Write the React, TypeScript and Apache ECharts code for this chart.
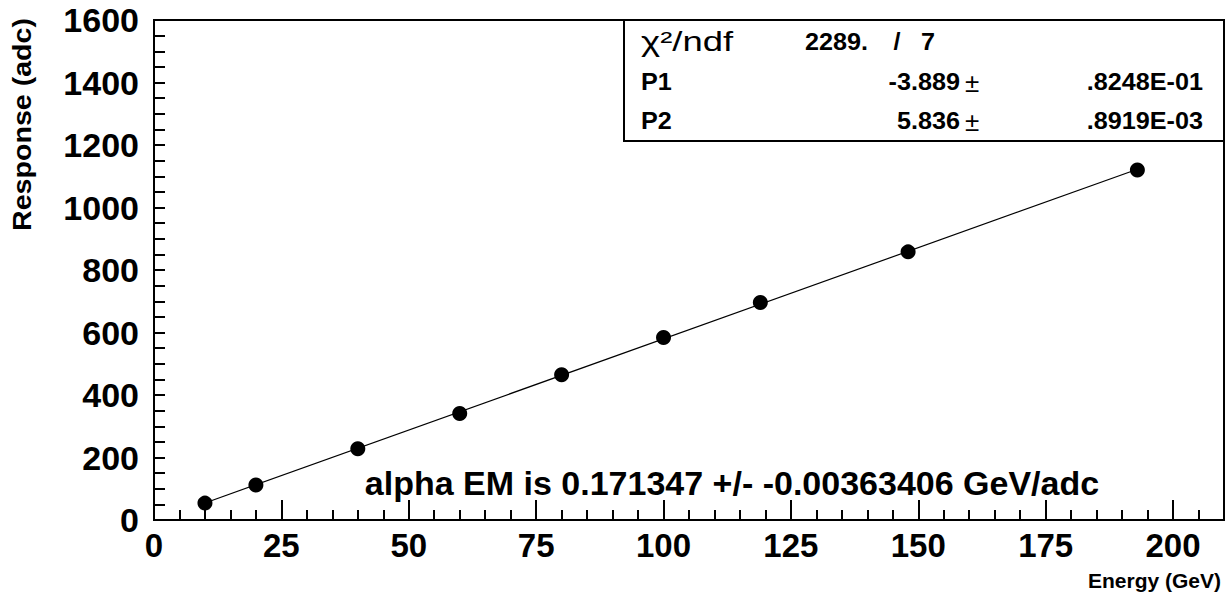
import React, { useEffect, useRef } from "react";
import * as echarts from "echarts";

const energy = [10, 20, 40, 60, 80, 100, 119, 148, 193];
const response = [54, 112, 228, 341, 465, 584, 696, 858, 1120];
const P1 = -3.889;
const P2 = 5.836;
const xMajorTicks = [0, 25, 50, 75, 100, 125, 150, 175, 200];
const yMajorTicks = [0, 200, 400, 600, 800, 1000, 1200, 1400, 1600];

const FONT = "'Liberation Sans', Arial, Helvetica, sans-serif";

export default function App() {
  const ref = useRef<HTMLDivElement>(null);
  useEffect(() => {
    const chart = echarts.init(ref.current!, null, { renderer: "svg" });
    const xMin = Math.min(...energy);
    const xMax = Math.max(...energy);
    const fitLine = [
      [xMin, P1 + P2 * xMin],
      [xMax, P1 + P2 * xMax],
    ];
    const left = 154, right = 5, top = 20, bottom = 78;
    const boxX = 624, boxY = 20, boxW = 1224 - 624, boxH = 121;
    const boxText = (text: string, x: number, y: number, align: string, bold = true, size = 24, sx = 1.05) => ({
      type: "text",
      x,
      y,
      scaleX: sx,
      style: {
        text,
        fontFamily: FONT,
        fontWeight: bold ? "bold" : "normal",
        fontSize: size,
        fill: "#000",
        align,
        verticalAlign: "middle",
      },
    });
    chart.setOption({
      animation: false,
      backgroundColor: "#ffffff",
      grid: {
        left, right, top, bottom,
        show: true,
        borderColor: "#000",
        borderWidth: 2,
        backgroundColor: "transparent",
      },
      xAxis: [
        {
          type: "value",
          min: 0,
          max: 210,
          interval: 25,
          axisLine: { show: true, onZero: false, lineStyle: { color: "#000", width: 2 } },
          axisTick: { show: true, inside: true, length: 20, lineStyle: { color: "#000", width: 2 } },
          minorTick: { show: false },
          splitLine: { show: false },
          axisLabel: {
            showMaxLabel: false,
            color: "#000",
            fontFamily: FONT,
            fontWeight: "bold",
            fontSize: 33,
            margin: 9,
            formatter: (v: number) => (xMajorTicks.includes(v) ? String(v) : ""),
          },
        },
        {
          type: "value",
          min: 0,
          max: 210,
          interval: 5,
          position: "bottom",
          axisLine: { show: false },
          axisTick: { show: true, inside: true, length: 10, lineStyle: { color: "#000", width: 2 } },
          splitLine: { show: false },
          axisLabel: { show: false },
        },
      ],
      yAxis: [
        {
          type: "value",
          min: 0,
          max: 1600,
          interval: 200,
          axisLine: { show: true, onZero: false, lineStyle: { color: "#000", width: 2 } },
          axisTick: { show: true, inside: true, length: 11, lineStyle: { color: "#000", width: 2 } },
          minorTick: { show: true, splitNumber: 4, length: 11, lineStyle: { color: "#000", width: 2 } },
          splitLine: { show: false },
          axisLabel: {
            color: "#000",
            fontFamily: FONT,
            fontWeight: "bold",
            fontSize: 34,
            margin: 15,
            formatter: (v: number) => (yMajorTicks.includes(v) ? String(v) : ""),
          },
        },
      ],
      series: [
        {
          type: "line",
          data: fitLine,
          symbol: "none",
          lineStyle: { color: "#000", width: 1.2 },
          z: 2,
        },
        {
          type: "scatter",
          data: energy.map((e, i) => [e, response[i]]),
          symbol: "circle",
          symbolSize: 15,
          itemStyle: { color: "#000", opacity: 1 },
          z: 3,
        },
      ],
      graphic: [
        {
          type: "text",
          x: 22,
          y: 18,
          rotation: Math.PI / 2,
          scaleX: 1.1,
          style: {
            text: "Response (adc)",
            fontFamily: FONT,
            fontWeight: "bold",
            fontSize: 26,
            fill: "#000",
            align: "right",
            verticalAlign: "middle",
          },
        },
        {
          type: "text",
          x: 1221,
          y: 580,
          style: {
            text: "Energy (GeV)",
            fontFamily: FONT,
            fontWeight: "bold",
            fontSize: 21,
            fill: "#000",
            align: "right",
            verticalAlign: "middle",
          },
        },
        {
          type: "text",
          x: 732,
          y: 483,
          style: {
            text: "alpha EM is 0.171347 +/- -0.00363406 GeV/adc",
            fontFamily: FONT,
            fontWeight: "bold",
            fontSize: 34,
            fill: "#000",
            align: "center",
            verticalAlign: "middle",
          },
        },
        {
          type: "group",
          z: 100,
          children: [
            {
              type: "rect",
              shape: { x: boxX, y: boxY, width: boxW, height: boxH },
              style: { fill: "#fff", stroke: "#000", lineWidth: 2 },
            },
            boxText("χ²/ndf", 641, 42, "left", false, 27, 1.35),
            boxText("2289.", 805, 42, "left"),
            boxText("/", 897, 42, "center"),
            boxText("7", 928, 42, "center"),
            boxText("P1", 641, 82, "left"),
            boxText("-3.889", 960, 82, "right"),
            boxText("±", 965, 83, "left", false, 26, 1.0),
            boxText(".8248E-01", 1203, 82, "right"),
            boxText("P2", 641, 121, "left"),
            boxText("5.836", 960, 121, "right"),
            boxText("±", 965, 122, "left", false, 26, 1.0),
            boxText(".8919E-03", 1203, 121, "right"),
          ],
        },
      ],
    });
    return () => chart.dispose();
  }, []);
  return <div ref={ref} style={{ width: 1229, height: 598, position: "absolute", left: 0, top: 0 }} />;
}
